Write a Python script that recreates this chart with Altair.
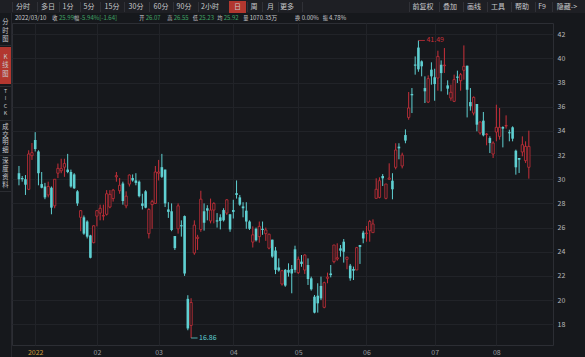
import altair as alt
import pandas as pd

# ---------------- data ----------------
opens = [30.5, 30.1, 30.0, 29.17, 31.95, 33.25, 32.3, 29.6, 29.4, 28.7,
         29.3, 27.8, 30.5, 30.7, 31.0, 30.8, 30.6, 30.4, 29.0, 26.85,
         26.85, 26.5, 25.35, 24.75, 26.95, 27.2, 26.95, 27.1, 27.7, 28.4,
         30.2, 29.05, 29.65, 27.8, 29.6, 30.1, 29.9, 29.8, 28.0, 29.0,
         25.5, 27.9, 28.0, 30.5, 31.0, 30.8, 27.5, 27.35, 25.3, 25.9,
         26.2, 26.95, 20.1, 17.9, 23.9, 25.1, 25.85, 27.35, 27.6, 26.55,
         27.45, 26.6, 26.85, 27.45, 27.2, 27.1, 27.45, 28.85, 28.5, 27.75,
         27.4, 26.5, 24.8, 25.9, 25.25, 25.9, 25.5, 24.3, 25.0, 24.1,
         22.7, 21.33, 22.5, 22.5, 22.57, 24.2, 22.27, 23.18, 22.49, 22.9,
         21.8, 20.28, 20.36, 21.17, 19.4, 21.8, 22.2, 23.18, 23.4, 24.28,
         24.83, 23.37, 22.85, 22.57, 22.49, 24.56, 25.58, 25.5, 25.74, 25.58,
         28.42, 28.5, 30.27, 28.42, 30.0, 29.88, 30.99, 32.7, 31.1, 33.66,
         35.12, 37.06, 39.5, 40.9, 39.76, 37.55, 36.39, 39.07, 38.44, 38.38,
         39.48, 39.4, 37.77, 36.72, 36.45, 38.5, 38.16, 39.02, 39.4, 36.39,
         35.48, 36.23, 33.83, 34.85, 33.7, 33.41, 32.09, 33.91, 33.55, 34.33,
         34.4, 33.9, 34.3, 32.36, 31.76, 32.26, 31.54, 30.99]
highs = [31.1, 30.27, 30.35, 32.4, 33.0, 33.9, 32.4, 30.6, 29.7, 29.8,
         29.4, 30.0, 31.3, 31.7, 31.7, 32.1, 30.8, 30.5, 29.1, 27.45,
         27.0, 26.6, 25.4, 26.2, 27.45, 27.9, 27.9, 29.1, 29.1, 29.2,
         30.6, 30.1, 29.8, 29.0, 30.4, 30.4, 30.5, 29.9, 28.8, 29.1,
         27.6, 28.3, 31.1, 31.6, 32.1, 30.8, 28.1, 28.0, 25.3, 28.0,
         26.6, 27.0, 20.4, 20.15, 26.6, 25.4, 29.05, 28.0, 27.85, 28.4,
         28.1, 27.2, 27.1, 27.6, 28.35, 27.1, 28.3, 29.9, 28.7, 28.1,
         28.1, 26.6, 26.1, 26.0, 26.5, 26.5, 26.0, 25.5, 25.0, 24.4,
         23.45, 22.5, 22.57, 23.04, 22.9, 24.5, 23.6, 23.73, 23.79, 23.45,
         21.94, 20.42, 21.39, 21.94, 21.52, 22.27, 22.9, 24.56, 24.7, 24.56,
         25.05, 23.6, 22.99, 22.77, 24.4, 24.56, 25.74, 26.13, 26.63, 26.68,
         30.08, 30.16, 30.43, 29.61, 31.32, 30.5, 32.98, 32.98, 32.2, 34.13,
         37.22, 37.55, 40.17, 41.49, 39.84, 38.52, 38.6, 39.68, 39.15, 40.64,
         39.84, 40.86, 38.19, 37.83, 38.66, 38.99, 38.8, 41.08, 39.4, 37.55,
         36.86, 36.23, 34.79, 35.57, 33.83, 33.55, 33.14, 36.17, 35.9, 34.38,
         35.29, 34.1, 34.38, 32.45, 31.76, 33.55, 33.14, 34.02]
lows = [29.5, 29.8, 28.7, 29.1, 31.6, 32.3, 29.5, 29.25, 28.35, 28.5,
        27.1, 27.6, 30.1, 30.5, 30.2, 30.5, 29.3, 29.2, 27.8, 25.7,
        25.4, 25.1, 23.45, 24.7, 26.1, 26.6, 26.6, 27.0, 27.6, 28.15,
        29.8, 28.8, 27.9, 27.6, 29.4, 29.8, 29.5, 28.5, 27.5, 27.6,
        25.1, 25.9, 27.95, 29.9, 30.1, 27.7, 26.8, 25.7, 24.15, 25.5,
        25.25, 22.0, 17.5, 16.86, 23.75, 24.15, 25.65, 25.75, 26.6, 26.35,
        26.35, 26.0, 25.85, 26.5, 27.05, 25.65, 26.75, 28.4, 27.8, 26.85,
        25.9, 25.8, 24.35, 24.85, 24.75, 25.4, 24.9, 24.2, 23.5, 22.15,
        22.35, 21.2, 21.1, 21.94, 20.56, 22.27, 22.16, 22.76, 22.16, 21.25,
        20.78, 18.9, 18.96, 20.0, 19.32, 21.39, 21.88, 23.04, 23.26, 23.59,
        23.1, 22.55, 21.6, 21.66, 22.49, 22.99, 24.7, 24.83, 24.83, 25.58,
        28.42, 28.42, 29.44, 28.34, 29.94, 28.34, 30.82, 31.65, 30.9, 32.98,
        34.93, 35.48, 38.66, 38.9, 38.52, 36.31, 36.31, 37.83, 36.5, 37.33,
        37.28, 38.8, 37.0, 36.5, 36.39, 37.97, 37.33, 38.24, 35.12, 35.68,
        35.29, 33.97, 33.69, 33.55, 32.81, 32.17, 31.76, 33.14, 33.28, 32.64,
        34.19, 33.14, 33.14, 30.38, 30.52, 31.9, 31.35, 30.05]
closes = [30.0, 30.0, 29.55, 32.09, 32.2, 32.5, 30.5, 29.3, 28.5, 29.4,
          27.65, 30.0, 30.9, 30.9, 31.3, 30.6, 29.4, 29.25, 28.0, 27.4,
          25.5, 25.25, 23.5, 26.15, 27.4, 27.6, 27.0, 28.8, 28.75, 29.1,
          30.3, 29.5, 28.2, 28.6, 30.35, 29.9, 29.7, 28.6, 27.8, 27.65,
          27.5, 28.15, 30.6, 30.6, 30.2, 28.0, 27.3, 25.8, 24.3, 27.8,
          26.1, 22.2, 17.65, 19.8, 26.2, 25.2, 28.35, 26.4, 27.4, 27.45,
          28.0, 26.5, 26.55, 26.6, 28.3, 25.85, 27.3, 28.7, 27.9, 27.6,
          26.5, 25.9, 25.4, 24.95, 26.1, 25.8, 25.8, 25.45, 23.6, 22.5,
          22.45, 22.43, 21.2, 22.27, 22.2, 22.5, 23.37, 22.99, 23.73, 21.74,
          20.89, 18.96, 19.73, 20.14, 21.44, 21.9, 22.07, 24.56, 23.5, 24.09,
          24.0, 23.54, 21.8, 22.43, 24.34, 24.4, 25.1, 25.55, 26.5, 26.3,
          29.17, 29.88, 30.08, 29.61, 30.1, 29.17, 32.42, 32.56, 32.0, 33.2,
          35.9, 36.95, 39.4, 39.1, 39.35, 37.28, 38.33, 38.52, 37.88, 40.17,
          38.79, 39.45, 37.5, 37.2, 38.25, 38.4, 38.66, 39.35, 37.41, 36.04,
          36.78, 34.52, 34.74, 33.64, 33.75, 33.0, 33.0, 34.3, 34.3, 34.19,
          34.45, 33.8, 33.36, 30.99, 31.62, 32.86, 32.72, 32.72]

month_starts = [5, 24, 43, 66, 86, 107, 128, 147]
month_labels = ["2022", "02", "03", "04", "05", "06", "07", "08"]
y_ticks = list(range(18, 43, 2))

# ---------------- styling ----------------
BG = "#16181c"
BAR_BG = "#1e1f24"
GRID = "#212328"
BORDER = "#2c2e34"
RED = "#c8303a"
CYAN = "#5fd0d2"
GREEN = "#3fa464"
TXT = "#c8c9cc"
HILITE = "#b2372f"
FONT = "Noto Sans CJK SC"

PX0, PY0 = 12, 23          # plot-area origin on the page
W, H = 541, 322            # plot area size

n = len(opens)
df = pd.DataFrame({"i": list(range(n)), "open": opens, "high": highs,
                   "low": lows, "close": closes})
df["dir"] = ["up" if c >= o else "down" for o, c in zip(opens, closes)]

label_expr = " : ".join(f"datum.value == {v} ? '{t}'" for v, t in zip(month_starts, month_labels)) + " : ''"

xscale = alt.Scale(domain=[-0.605, 162.9], nice=False, zero=False)
xaxis = alt.Axis(values=month_starts, labelExpr=label_expr, grid=True,
                 gridColor=GRID, ticks=False, domain=False,
                 labelColor=alt.condition("datum.value == 5", alt.value("#d29a3a"), alt.value("#9b9da2")),
                 labelFontSize=7, labelPadding=3, labelFont=FONT)
yscale = alt.Scale(domain=[16.28, 42.935], nice=False, zero=False)
yaxis = alt.Axis(values=y_ticks, orient="right", grid=True, gridColor=GRID,
                 ticks=False, domain=False, labelColor="#b9bbbe",
                 labelFontSize=7, labelPadding=4, labelFont=FONT)


def XE(field="i:Q"):
    return alt.X(field, title=None, scale=xscale, axis=xaxis)


def YE(field):
    return alt.Y(field, title=None, scale=yscale, axis=yaxis)


color = alt.Color("dir:N", scale=alt.Scale(domain=["up", "down"], range=[RED, CYAN]), legend=None)

base = alt.Chart(df)
wicks = base.mark_rule(strokeWidth=1).encode(x=XE(), y=YE("low:Q"), y2="high:Q", color=color)
down_bodies = base.transform_filter("datum.dir == 'down'").mark_bar(size=2.6, color=CYAN).encode(
    x=XE(), y=YE("open:Q"), y2="close:Q")
up_bodies = base.transform_filter("datum.dir == 'up'").mark_bar(
    size=2.3, fill=BG, stroke=RED, strokeWidth=0.8).encode(
    x=XE(), y=YE("open:Q"), y2="close:Q")

# max / min annotations
imax = max(range(n), key=lambda k: highs[k])
imin = min(range(n), key=lambda k: lows[k])
ann = pd.DataFrame({
    "i": [imax, imin], "i2": [imax + 2.0, imin + 2.0],
    "v": [highs[imax], lows[imin]],
    "t": [f"{highs[imax]:.2f}", f"{lows[imin]:.2f}"],
    "kind": ["max", "min"],
})
ann_color = alt.Color("kind:N", scale=alt.Scale(domain=["max", "min"], range=[RED, GREEN]), legend=None)
ann_rule = alt.Chart(ann).mark_rule(strokeWidth=0.8).encode(
    x=XE(), x2="i2:Q", y=YE("v:Q"), color=ann_color)
ann_text = alt.Chart(ann).mark_text(align="left", baseline="middle", dx=8, fontSize=7, font=FONT).encode(
    x=XE(), y=YE("v:Q"), text="t:N", color=ann_color)


# ---------------- chrome (toolbar, info row, side tabs) ----------------
def txt(s, x, y, color=TXT, size=7, align="center"):
    return alt.Chart(alt.Data(values=[{}])).mark_text(
        text=s, color=color, fontSize=size, align=align, baseline="middle", font=FONT
    ).encode(x=alt.value(x - PX0), y=alt.value(y - PY0))


def rect(x1, x2, y1, y2, c):
    return alt.Chart(alt.Data(values=[{}])).mark_rect(color=c).encode(
        x=alt.value(x1 - PX0), x2=alt.value(x2 - PX0), y=alt.value(y1 - PY0), y2=alt.value(y2 - PY0))


chrome = [rect(0, 585, 0, 13, BAR_BG), rect(229, 246, 1, 13, HILITE), rect(0, 11, 47, 84, HILITE)]

left_items = [("分时", 23), ("多日", 48), ("1分", 68), ("5分", 89), ("15分", 112), ("30分", 136),
              ("60分", 161), ("90分", 184), ("2小时", 210), ("日", 237.5), ("周", 254), ("月", 270.5), ("更多", 287)]
right_items = [("前复权", 423), ("叠加", 450), ("画线", 474), ("工具", 498), ("帮助", 522), ("F9", 542), ("隐藏->", 567)]
seps = [12, 37, 59, 80, 100, 124, 149, 173, 198, 247, 262, 278, 302, 409, 439, 463, 487, 511, 535, 552]
for sx in seps:
    chrome.append(rect(sx, sx + 0.8, 2, 12, "#35373d"))
for s, x in left_items + right_items:
    chrome.append(txt(s, x, 7, TXT, 7))

# info row: (text, left x, colour, font size)
info = [("2022/03/10", 15, TXT, 6), ("收", 52.3, TXT, 5.2), ("25.99", 59, GREEN, 6),
        ("幅", 74, TXT, 5.2), ("-5.94%[-1.64]", 80, GREEN, 6), ("开", 139.3, TXT, 5.2),
        ("26.07", 145.7, GREEN, 6), ("高", 167.3, TXT, 5.2), ("26.55", 173.7, GREEN, 6),
        ("低", 192.7, TXT, 5.2), ("25.23", 199, GREEN, 6), ("均", 217.3, TXT, 5.2),
        ("25.92", 223.7, GREEN, 6), ("量", 243.3, TXT, 5.2), ("1070.35万", 249.7, TXT, 6),
        ("换", 295, TXT, 5.2), ("0.00%", 301.7, TXT, 6), ("振", 322.7, TXT, 5.2), ("4.78%", 329, TXT, 6)]
for s, x, c, fs in info:
    chrome.append(txt(s, x, 17.5, c, fs, "left"))

side = [("分", 22, 6.3), ("时", 31, 6.3), ("图", 39, 6.3), ("K", 57, 6.3), ("线", 65, 6.3), ("图", 74, 6.3),
        ("T", 90.5, 5.3), ("I", 98, 5.3), ("C", 105.5, 5.3), ("K", 113, 5.3),
        ("成", 127, 6.3), ("交", 134.5, 6.3), ("明", 142, 6.3), ("细", 149.5, 6.3),
        ("深", 161, 6.3), ("度", 168.5, 6.3), ("资", 176.5, 6.3), ("料", 185, 6.3)]
for s, y, fs in side:
    chrome.append(txt(s, 5.5, y, TXT, fs))
for sy in [45, 86, 120, 155, 191]:
    chrome.append(rect(0, 11, sy, sy + 0.7, "#35373d"))
chrome.append(rect(11, 11.8, 13, 357, BORDER))

chart = alt.layer(wicks, down_bodies, up_bodies, ann_rule, ann_text, *chrome).properties(
    width=W, height=H,
    padding={"left": PX0, "top": PY0, "right": 585 - PX0 - W, "bottom": 357 - PY0 - H},
    autosize=alt.AutoSizeParams(type="none"),
    background=BG,
).configure_view(stroke=BORDER, strokeWidth=1).configure_axis(labelFont=FONT)

chart.save("out.html", embed_options={"renderer": "svg", "actions": False})
